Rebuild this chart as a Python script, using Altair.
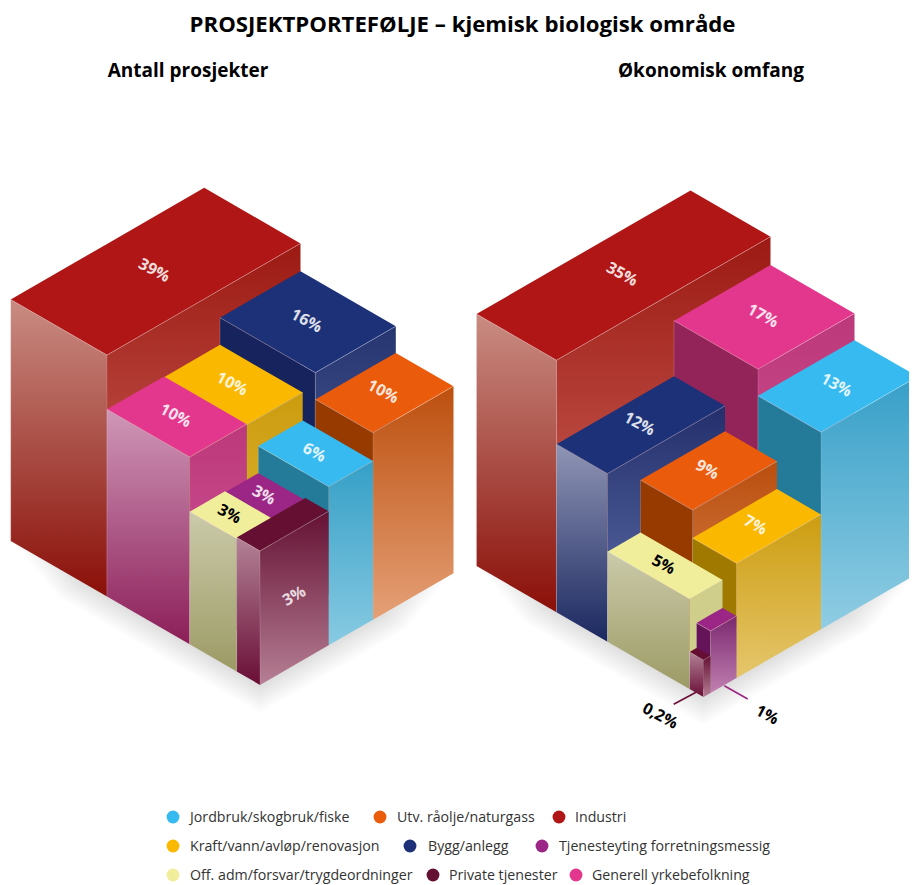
import math
import altair as alt
import pandas as pd

FONT = "Open Sans"
K = math.tan(math.radians(30))

TITLE = "PROSJEKTPORTEFØLJE – kjemisk biologisk område"
PANEL_TITLES = ["Antall prosjekter", "Økonomisk omfang"]

# ---- Box values: footprint along the two ground axes and height
# name, label, A0, A1, B0, B1, height
LEFT_BOXES = [
    ("Industri", "39%", 0, 193.5, 0, 96.3, 241.5),
    ("Bygg", "16%", 113, 193.5, 96.3, 191.6, 213.7),
    ("Utv", "10%", 113, 193.5, 191.6, 249.3, 187),
    ("Kraft", "10%", 57, 113, 96.3, 179, 186.5),
    ("Generell", "10%", 0, 57, 96.3, 179, 187.3),
    ("Jord", "6%", 68.6, 113, 179, 249.3, 158.7),
    ("Tjen", "3%", 35.3, 68.6, 179, 226, 131.6),
    ("Off", "3%", 0, 35.3, 179, 226, 132.6),
    ("Priv", "3%", 0, 68.6, 226, 249.3, 134),
]
RIGHT_BOXES = [
    ("Industri", "35%", 0, 214, 0, 80, 252),
    ("Generell", "17%", 117.5, 214, 80, 164, 223.7),
    ("Jord", "13%", 117.5, 214, 164, 227, 197),
    ("Bygg", "12%", 0, 117.5, 80, 131, 168),
    ("Utv", "9%", 33, 117.5, 131, 183, 142.5),
    ("Kraft", "7%", 33, 117.5, 183, 227, 114.7),
    ("Off", "5%", 0, 33, 131, 213, 90),
    ("Tjen", "", 7, 33, 213, 227, 62),
    ("Priv", "", 0, 7, 213, 227, 37),
]
ORIGINS = [(10.7, 541.0), (476.5, 566.0)]

TOP = {"Industri": "#AF1615", "Bygg": "#1C3177", "Utv": "#EB5B0C", "Kraft": "#FBB800",
       "Generell": "#E2378D", "Jord": "#36BAEF", "Tjen": "#9B2685", "Off": "#F0EE9B",
       "Priv": "#650F33"}

# side face colours (top stop, bottom stop) per panel
LEFT_SIDE = [
    {"Industri": ("#C98C82", "#8A0F08"), "Bygg": ("#16235C", "#16235C"), "Utv": ("#963A00", "#963A00"),
     "Kraft": ("#A07A00", "#A07A00"), "Generell": ("#CF97B8", "#8C1E58"), "Jord": ("#247A99", "#247A99"),
     "Tjen": ("#66145A", "#66145A"), "Off": ("#CBCAAA", "#9C9B65"), "Priv": ("#B38296", "#690E36")},
    {"Industri": ("#C98C82", "#8A0F08"), "Bygg": ("#8F95B5", "#1B2860"), "Utv": ("#963A00", "#963A00"),
     "Kraft": ("#A07A00", "#A07A00"), "Generell": ("#92245A", "#92245A"), "Jord": ("#247A99", "#247A99"),
     "Tjen": ("#66145A", "#66145A"), "Off": ("#CBCAAA", "#9C9B65"), "Priv": ("#B38296", "#690E36")},
]
RIGHT_SIDE = [
    {"Industri": ("#9C1A13", "#CF6A60"), "Bygg": ("#263570", "#5A6AA0"), "Utv": ("#BC4F0E", "#E5A077"),
     "Kraft": ("#CC9C0E", "#E0B840"), "Generell": ("#BC387A", "#D05A9C"), "Jord": ("#359FC7", "#88CAE2"),
     "Tjen": ("#7B2870", "#C080B0"), "Off": ("#CFCE8A", "#CFCE8A"), "Priv": ("#651133", "#B57F94")},
    {"Industri": ("#9C1A13", "#CF6A60"), "Bygg": ("#232F6C", "#5F70A8"), "Utv": ("#BA4E0E", "#D98A55"),
     "Kraft": ("#CD9D10", "#E5C66C"), "Generell": ("#BC387A", "#D05A9C"), "Jord": ("#379FC8", "#90CDE3"),
     "Tjen": ("#7B2870", "#C080B0"), "Off": ("#CFCE8A", "#CFCE8A"), "Priv": ("#651133", "#B57F94")},
]

LEGEND = [
    ("Jordbruk/skogbruk/fiske", "#36BAEF", 173, 190, 817),
    ("Utv. råolje/naturgass", "#EB5B0C", 380, 397, 817),
    ("Industri", "#AF1615", 559, 575, 817),
    ("Kraft/vann/avløp/renovasjon", "#FBB800", 173, 190, 846),
    ("Bygg/anlegg", "#1C3177", 410, 428, 846),
    ("Tjenesteyting forretningsmessig", "#9B2685", 542, 559, 846),
    ("Off. adm/forsvar/trygdeordninger", "#F0EE9B", 173, 190, 875),
    ("Private tjenester", "#650F33", 433, 449, 875),
    ("Generell yrkebefolkning", "#E2378D", 576, 592, 875),
]

W, H = 901, 877
xs = alt.Scale(domain=[8, 8 + W], nice=False, zero=False)
ys = alt.Scale(domain=[8 + H, 8], nice=False, zero=False)
X = alt.X("x:Q", scale=xs, axis=None)
Y = alt.Y("y:Q", scale=ys, axis=None)


def P(o, a, b, z):
    return (o[0] + a + b, o[1] + K * (b - a) - z)


def to_rows(poly):
    """Turn a convex polygon into x / y / y2 rows for an area mark."""
    rows = []
    for x in sorted({round(p[0], 3) for p in poly}):
        hits = []
        for i in range(len(poly)):
            x1, y1 = poly[i]
            x2, y2 = poly[(i + 1) % len(poly)]
            if min(x1, x2) - 0.002 <= x <= max(x1, x2) + 0.002:
                if abs(x1 - x2) < 0.002:
                    hits += [y1, y2]
                else:
                    hits.append(y1 + (y2 - y1) * (x - x1) / (x2 - x1))
        rows.append({"x": x, "y": min(hits), "y2": max(hits)})
    return pd.DataFrame(rows)


def face(poly, c0, c1=None, opacity=1.0):
    if c1 is None or c1 == c0:
        fill = c0
    else:
        fill = alt.Gradient(gradient="linear", x1=0, x2=0, y1=0, y2=1,
                            stops=[alt.GradientStop(offset=0, color=c0),
                                   alt.GradientStop(offset=1, color=c1)])
    return alt.Chart(to_rows(poly)).mark_area(orient="vertical", fill=fill, opacity=opacity, line=False, clip=True).encode(
        x=X, y=Y, y2="y2:Q")


def polyline(pts, color, opacity, width):
    df = pd.DataFrame([{"x": p[0], "y": p[1], "i": i} for i, p in enumerate(pts)])
    return alt.Chart(df).mark_line(color=color, opacity=opacity, strokeWidth=width, clip=True).encode(
        x=X, y=Y, order="i:Q")


def text(rows, size, weight="normal", color="#000000", angle=0, align="center", opacity=1.0):
    df = pd.DataFrame(rows, columns=["x", "y", "t"])
    return alt.Chart(df).mark_text(font=FONT, fontSize=size, fontWeight=weight, color=color, angle=angle,
                                   align=align, baseline="middle", opacity=opacity).encode(
        x=X, y=Y, text="t:N")


layers = []

for o, boxes in zip(ORIGINS, [LEFT_BOXES, RIGHT_BOXES]):
    amax = max(b[3] for b in boxes)
    bmax = max(b[5] for b in boxes)
    # soft ground shadow
    for k in range(1, 17):
        d, s = k * 3.4, k * 1.4
        poly = [P(o, s, s, -d), P(o, amax - s, s, -d), P(o, amax - s, bmax - s, -d), P(o, s, bmax - s, -d)]
        layers.append(face(poly, "#000000", opacity=0.0095))

# leader lines for the two smallest boxes in the right panel
layers.append(polyline([(673.7, 704.3), (697, 691.7)], "#6B0F38", 1, 1.6))
layers.append(polyline([(724.3, 685.7), (747.7, 699)], "#9B2685", 1, 1.6))

for o, boxes, lside, rside in zip(ORIGINS, [LEFT_BOXES, RIGHT_BOXES], LEFT_SIDE, RIGHT_SIDE):
    for name, lab, a0, a1, b0, b1, h in boxes:
        top = [P(o, a0, b0, h), P(o, a1, b0, h), P(o, a1, b1, h), P(o, a0, b1, h)]
        left = [P(o, a0, b0, h), P(o, a0, b1, h), P(o, a0, b1, 0), P(o, a0, b0, 0)]
        right = [P(o, a0, b1, h), P(o, a1, b1, h), P(o, a1, b1, 0), P(o, a0, b1, 0)]
        layers.append(face(left, *lside[name]))
        layers.append(face(right, *rside[name]))
        layers.append(face(top, TOP[name]))
        layers.append(polyline([P(o, a0, b0, h), P(o, a0, b1, h), P(o, a1, b1, h)], "#FFFFFF", 0.35, 0.9))
        layers.append(polyline([P(o, a0, b1, h), P(o, a0, b1, 0)], "#FFFFFF", 0.18, 0.8))
        layers.append(polyline([P(o, a0, b0, h), P(o, a0, b0, 0)], "#FFFFFF", 0.22, 0.8))

# percent labels, centred on the top faces
for o, boxes in zip(ORIGINS, [LEFT_BOXES, RIGHT_BOXES]):
    for name, lab, a0, a1, b0, b1, h in boxes:
        if not lab or name == "Priv":
            continue
        c = P(o, (a0 + a1) / 2, (b0 + b1) / 2, h)
        color = "#000000" if name == "Off" else "#FFFFFF"
        layers.append(text([(c[0] - 1.5, c[1] - 1, lab)], 16, "bold", color, angle=28,
                           opacity=1.0 if name == "Off" else 0.85))
# label on the side of the private-services box
o = ORIGINS[0]
name, lab, a0, a1, b0, b1, h = LEFT_BOXES[-1]
c = P(o, (a0 + a1) / 2, b1, h / 2)
layers.append(text([(c[0], c[1] - 2, lab)], 16, "bold", "#FFFFFF", angle=330, opacity=0.8))

layers.append(text([(660, 716, "0,2%")], 16, "bold", "#000000", angle=28))
layers.append(text([(767, 715, "1%")], 16, "bold", "#000000", angle=28))

layers.append(text([(462.5, 25, TITLE)], 22.2, "bold"))
layers.append(text([(188, 71, PANEL_TITLES[0])], 19, "bold"))
layers.append(text([(711, 71, PANEL_TITLES[1])], 19, "bold"))

ldf = pd.DataFrame(LEGEND, columns=["t", "c", "cx", "tx", "y"])
layers.append(alt.Chart(ldf).mark_circle(size=165, opacity=1).encode(
    x=alt.X("cx:Q", scale=xs, axis=None), y=alt.Y("y:Q", scale=ys, axis=None),
    color=alt.Color("c:N", scale=None)))
layers.append(alt.Chart(ldf).mark_text(font=FONT, fontSize=14.2, color="#333333", align="left", baseline="middle", dy=1).encode(
    x=alt.X("tx:Q", scale=xs, axis=None), y=alt.Y("y:Q", scale=ys, axis=None), text="t:N"))

chart = alt.layer(*layers).properties(
    width=W, height=H, padding=0, autosize=alt.AutoSizeParams(type="none"), background="#FFFFFF",
).configure_view(stroke=None)

chart.save("out.html", embed_options={"renderer": "svg", "actions": False})
